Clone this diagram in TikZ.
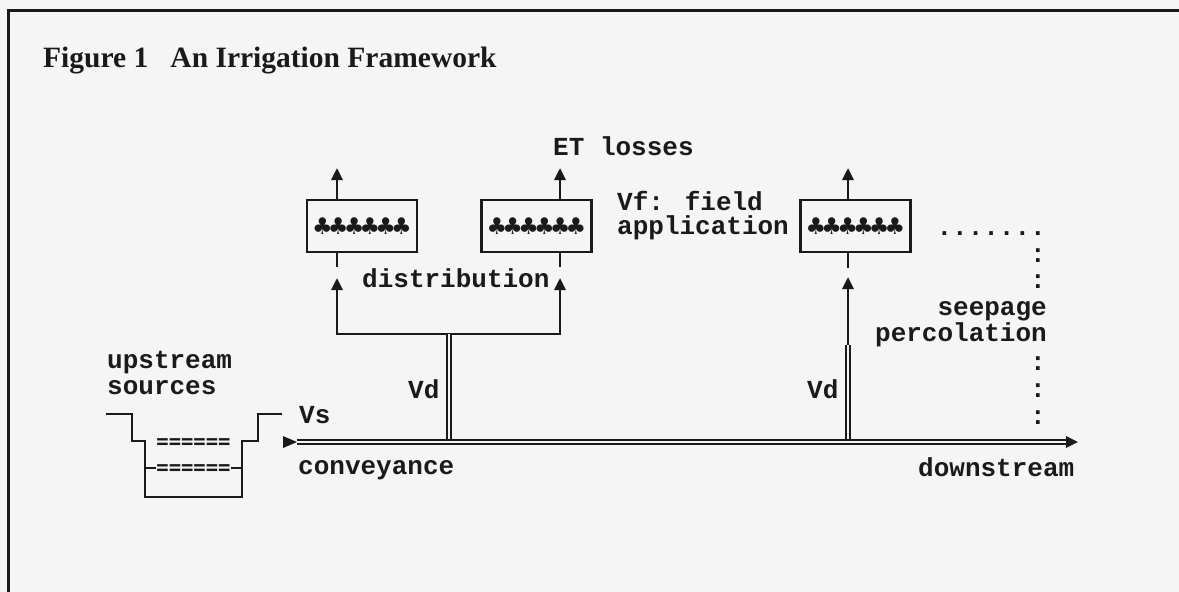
\documentclass[tikz,border=0pt]{standalone}
\usepackage{fontspec}
\setmainfont{Liberation Serif}
\newfontfamily\monof{Liberation Mono}
\newfontfamily\symf{DejaVu Sans}
\newfontfamily\eqf{DejaVu Sans Mono}
\usetikzlibrary{arrows.meta}
\definecolor{ink}{HTML}{1A1A1A}
\definecolor{paper}{HTML}{F5F5F5}
\newcommand\oneclub{\makebox[15.8pt]{♣}}
\newcommand\clubrow{\oneclub\oneclub\oneclub\oneclub\oneclub\oneclub}
\tikzset{
  inkline/.style={draw=ink, line width=2.8pt},
  pipe/.style={draw=ink, line width=2.2pt, double=paper, double distance=1.2pt},
  lbl/.style={font=\monof\bfseries\fontsize{26}{26}\selectfont, text=ink, inner sep=0pt, anchor=base west},
  rlbl/.style={lbl, anchor=base east},
  eqrow/.style={font=\eqf\bfseries\fontsize{20.5}{20.5}\selectfont, text=ink, inner sep=0pt, anchor=base},
  fieldbox/.style={draw=ink, line width=2.8pt, minimum width=110pt, minimum height=52pt, inner sep=0pt,
                   font=\symf\fontsize{23}{23}\selectfont, text=ink},
  uparrow/.style={inkline, -{Triangle[length=12pt,width=11pt]}},
}
\begin{document}
\begin{tikzpicture}[x=1pt,y=-1pt]
\useasboundingbox (0,0) rectangle (1179,592);
\fill[paper] (0,0) rectangle (1179,592);
% frame
\draw[draw=ink, line width=3pt] (8,592) -- (8,10) -- (1179,10);

% title
\node[anchor=base west, inner sep=0pt, text=ink, font=\bfseries\fontsize{29.5}{36}\selectfont] (title) at (43,67)
  {Figure 1\hspace{0.75em}An Irrigation Framework};

% field boxes
\node[fieldbox] (f1) at (362,226) {\clubrow};
\node[fieldbox] (f2) at (536.5,226) {\clubrow};
\node[fieldbox] (f3) at (855.5,226) {\clubrow};

% ET arrows
\coordinate (et1) at (337,168);
\coordinate (et2) at (560,168);
\coordinate (et3) at (848,168);
\draw[uparrow] (f1.north -| et1) -- (et1);
\draw[uparrow] (f2.north -| et2) -- (et2);
\draw[uparrow] (f3.north -| et3) -- (et3);

% stubs below boxes
\draw[inkline] (f1.south -| et1) -- ++(0,14);
\draw[inkline] (f2.south -| et2) -- ++(0,14);
\draw[inkline] (f3.south -| et3) -- ++(0,15);

% distribution inlets
\coordinate (in1) at (337,278);
\coordinate (in2) at (560,278);
\coordinate (in3) at (848,277);
\coordinate (d1) at (449,334);
\coordinate (d2) at (848,345);
\draw[uparrow] (d1) -| (in1);
\draw[uparrow] (d1) -| (in2);
\draw[uparrow] (d2) -- (in3);

% conveyance canal
\coordinate (cs) at (297,442);
\coordinate (ce) at (1066,442);
\coordinate (ctip) at (1078,442);
\draw[pipe] (cs) -- (ce);
\draw[inkline, -{Triangle[length=12pt,width=11pt]}] (ce) -- (ctip);
\fill[ink] (283,436) -- (cs) -- (283,448) -- cycle;

% Vd pipes
\draw[pipe] (d1) -- (d1 |- 0,439);
\draw[pipe] (d2) -- (d2 |- 0,439);

% reservoir
\draw[inkline, line join=miter] (106,414) -| (132,441) -| (145,497) -| (242,441) -| (258,414) -- (282,414);
\node[eqrow] (eq1) at (193.5,448) {======};
\node[eqrow] (eq2) at (193.5,474) {======};
\draw[inkline] (145,468) -- (eq2.west |- 0,468);
\draw[inkline] (eq2.east |- 0,468) -- (242,468);

% labels
\node[lbl] (etl) at (553,155) {ET losses};
\node[lbl] (vf) at (617,210) {Vf: field};
\node[lbl] (app) at (617,234) {application};
\node[lbl] (dist) at (362,287) {distribution};
\node[lbl] (ups) at (107,368) {upstream};
\node[lbl] (src) at (107,394) {sources};
\node[lbl] (vs) at (299,423) {Vs};
\node[lbl] (vd1) at (408,398) {Vd};
\node[lbl] (vd2) at (807,398) {Vd};
\node[lbl] (conv) at (298,474) {conveyance};
\node[lbl] (down) at (918,476) {downstream};

% seepage boundary
\node[rlbl] (dots) at (1046,235) {.......};
\node[rlbl] (c1) at (1046,262) {:};
\node[rlbl] (c2) at (1046,288) {:};
\node[rlbl] (seep) at (1047,315) {seepage};
\node[rlbl] (perc) at (1047,341) {percolation};
\node[rlbl] (c3) at (1046,370) {:};
\node[rlbl] (c4) at (1046,397) {:};
\node[rlbl] (c5) at (1046,424) {:};
\end{tikzpicture}
\end{document}
